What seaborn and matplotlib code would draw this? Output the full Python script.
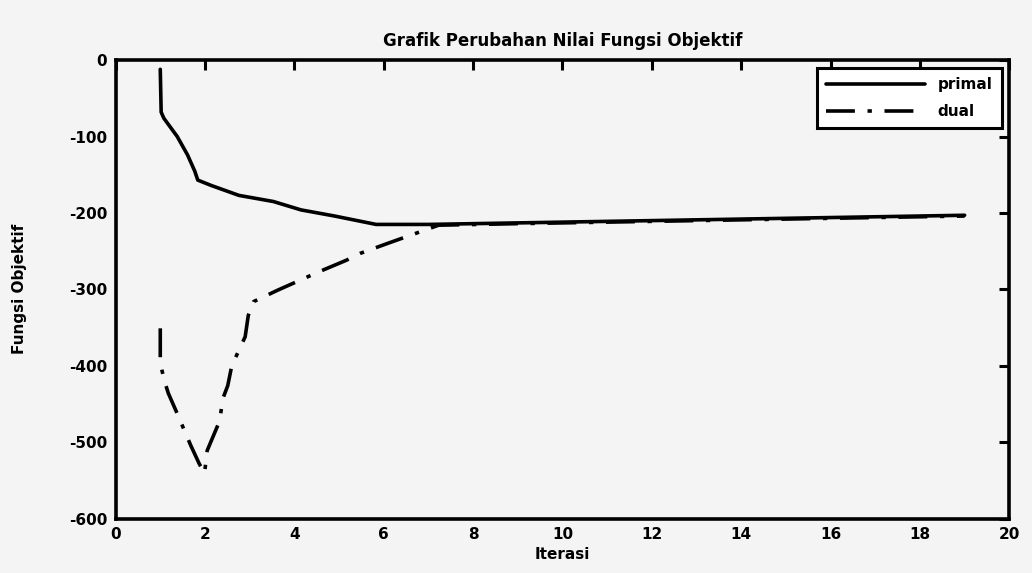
import matplotlib
matplotlib.use("Agg")
import matplotlib.pyplot as plt
import seaborn as sns
import pandas as pd

# Objective values per iteration (primal and dual)
primal_iter = [1.0, 1.02, 1.08, 1.38, 1.61, 1.77, 1.84, 2.14, 2.76, 3.53, 4.15, 4.9,
               5.83, 7.0, 9.0, 11.0, 13.0, 15.0, 17.0, 19.0]
primal_obj = [-12, -68, -76, -100, -124, -145, -157, -164, -177, -185, -196, -204,
              -215, -215, -213, -211, -209, -207, -205, -203]

dual_iter = [1.0, 1.0, 1.10, 1.18, 1.36, 1.68, 1.87, 1.99, 2.05, 2.33, 2.40, 2.51,
             2.60, 2.90, 2.97, 3.09, 3.63, 4.55, 5.16, 5.47, 6.08, 7.23, 9.0, 11.0,
             13.0, 15.0, 17.0, 19.0]
dual_obj = [-351, -397, -421, -436, -460, -504, -528, -541, -511, -472, -443, -426,
            -400, -362, -334, -316, -301, -277, -262, -253, -240, -216, -214, -212,
            -210, -208, -206, -204]

x_ticks = list(range(0, 21, 2))
y_ticks = list(range(-600, 1, 100))

primal_df = pd.DataFrame({"Iterasi": primal_iter, "Fungsi Objektif": primal_obj})
dual_df = pd.DataFrame({"Iterasi": dual_iter, "Fungsi Objektif": dual_obj})

sns.set_theme(style="white")
plt.rcParams["font.family"] = ["DejaVu Sans"]
plt.rcParams["text.color"] = "black"
plt.rcParams["axes.labelcolor"] = "black"

bg = "#f4f4f4"
fig = plt.figure(figsize=(10.32, 5.73), dpi=100, facecolor=bg)
ax = fig.add_axes([0.112, 0.095, 0.866, 0.80])
ax.set_facecolor(bg)

sns.lineplot(data=primal_df, x="Iterasi", y="Fungsi Objektif", ax=ax,
             estimator=None, sort=False, color="black", linewidth=2.6,
             label="primal")
sns.lineplot(data=dual_df, x="Iterasi", y="Fungsi Objektif", ax=ax,
             estimator=None, sort=False, color="black", linewidth=2.6,
             linestyle=(0, (8, 3.5, 1.2, 3.5)), label="dual")

ax.set_xlim(0, 20)
ax.set_ylim(-600, 0)
ax.set_xticks(x_ticks)
ax.set_yticks(y_ticks)
ax.set_xticklabels([str(t) for t in x_ticks], fontsize=11, fontweight="bold")
ax.set_yticklabels([str(t) for t in y_ticks], fontsize=11, fontweight="bold")
ax.tick_params(direction="in", top=True, right=True, length=7, width=2.2,
               colors="black", labelcolor="black", pad=6)
for side in ax.spines.values():
    side.set_visible(True)
    side.set_color("black")
    side.set_linewidth(2.6)

ax.set_xlabel("Iterasi", fontsize=11, fontweight="bold", labelpad=4,
              color="black")
ax.set_ylabel("Fungsi Objektif", fontsize=11, fontweight="bold", labelpad=30,
              color="black")
ax.set_title("Grafik Perubahan Nilai Fungsi Objektif", fontsize=12,
             fontweight="bold", pad=10, color="black")

leg = ax.legend(loc="upper right", handlelength=6.5,
                frameon=True, fancybox=False, edgecolor="black",
                facecolor="white", borderpad=0.6, labelspacing=0.8,
                prop={"weight": "bold", "size": 11})
leg.get_frame().set_linewidth(2.2)
leg.get_frame().set_alpha(1.0)
for txt in leg.get_texts():
    txt.set_color("black")

fig.savefig("out.png", dpi=100, facecolor=bg)
